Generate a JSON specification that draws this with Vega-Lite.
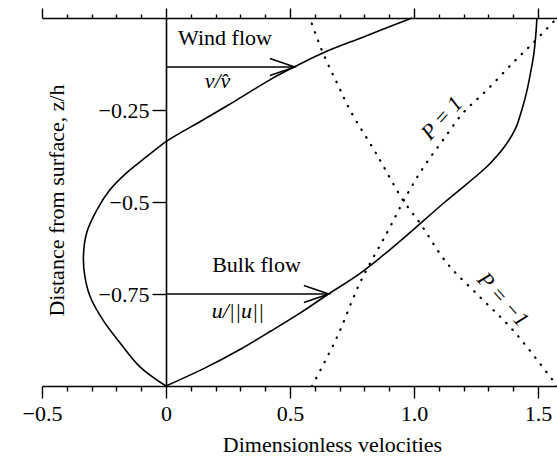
{
  "$schema": "https://vega.github.io/schema/vega-lite/v6.json",
  "width": 515,
  "height": 368,
  "autosize": {"type": "none"},
  "padding": {"left": 42, "top": 18, "right": 0, "bottom": 72},
  "background": "white",
  "config": {
    "view": {"stroke": null},
    "font": "Liberation Serif",
    "axis": {
      "labelFont": "Liberation Serif",
      "titleFont": "Liberation Serif",
      "labelFontSize": 22,
      "titleFontSize": 22,
      "titleFontWeight": "normal",
      "domainColor": "#000",
      "tickColor": "#000",
      "labelColor": "#000",
      "titleColor": "#000",
      "grid": false,
      "domainWidth": 1.6,
      "tickWidth": 1.4
    }
  },
  "datasets": {
    "bulk": [
      {"x": 0, "z": -1}, {"x": 0.16, "z": -0.95}, {"x": 0.30, "z": -0.90}, {"x": 0.425, "z": -0.85},
      {"x": 0.545, "z": -0.80}, {"x": 0.655, "z": -0.75}, {"x": 0.77, "z": -0.70}, {"x": 0.87, "z": -0.648},
      {"x": 0.955, "z": -0.60}, {"x": 1.04, "z": -0.55}, {"x": 1.125, "z": -0.50}, {"x": 1.215, "z": -0.45},
      {"x": 1.30, "z": -0.40}, {"x": 1.365, "z": -0.35}, {"x": 1.41, "z": -0.30}, {"x": 1.435, "z": -0.25},
      {"x": 1.455, "z": -0.20}, {"x": 1.47, "z": -0.15}, {"x": 1.483, "z": -0.10}, {"x": 1.491, "z": -0.05},
      {"x": 1.496, "z": 0}
    ],
    "wind": [
      {"x": 0, "z": -1}, {"x": -0.105, "z": -0.948}, {"x": -0.185, "z": -0.883}, {"x": -0.254, "z": -0.821},
      {"x": -0.306, "z": -0.757}, {"x": -0.327, "z": -0.703}, {"x": -0.333, "z": -0.649}, {"x": -0.32, "z": -0.584},
      {"x": -0.279, "z": -0.522}, {"x": -0.226, "z": -0.467}, {"x": -0.159, "z": -0.421}, {"x": -0.078, "z": -0.377},
      {"x": 0, "z": -0.336}, {"x": 0.056, "z": -0.313}, {"x": 0.149, "z": -0.277}, {"x": 0.285, "z": -0.223},
      {"x": 0.419, "z": -0.168}, {"x": 0.52, "z": -0.132}, {"x": 0.633, "z": -0.095}, {"x": 0.794, "z": -0.052},
      {"x": 0.992, "z": 0}
    ],
    "pminus": [
      {"x": 0.58, "z": 0}, {"x": 0.633, "z": -0.095}, {"x": 0.69, "z": -0.177}, {"x": 0.742, "z": -0.25},
      {"x": 0.851, "z": -0.372}, {"x": 0.956, "z": -0.495}, {"x": 1.024, "z": -0.557}, {"x": 1.133, "z": -0.666},
      {"x": 1.266, "z": -0.758}, {"x": 1.399, "z": -0.848}, {"x": 1.56, "z": -0.984}, {"x": 1.58, "z": -1}
    ],
    "pplus": [
      {"x": 0.589, "z": -1}, {"x": 0.69, "z": -0.867}, {"x": 0.782, "z": -0.72}, {"x": 0.891, "z": -0.584},
      {"x": 0.972, "z": -0.48}, {"x": 1.044, "z": -0.40}, {"x": 1.117, "z": -0.332}, {"x": 1.198, "z": -0.258},
      {"x": 1.294, "z": -0.196}, {"x": 1.399, "z": -0.122}, {"x": 1.48, "z": -0.068}, {"x": 1.577, "z": 0}
    ],
    "arrows": [
      {"x": 0, "x2": 0.52, "z": -0.133},
      {"x": 0, "x2": 0.657, "z": -0.75}
    ],
    "plain": [
      {"x": 0.238, "z": -0.073, "text": "Wind flow"},
      {"x": 0.365, "z": -0.69, "text": "Bulk flow"}
    ],
    "math": [
      {"x": 0.208, "z": -0.19, "text": "v/v̂"},
      {"x": 0.29, "z": -0.815, "text": "u/||u||"}
    ],
    "pone": [{"x": 1.112, "z": -0.272, "text": "P = 1"}],
    "pmone": [{"x": 1.36, "z": -0.765, "text": "P = −1"}]
  },
  "resolve": {"axis": {"x": "independent", "y": "independent"}},
  "layer": [
    {
      "data": {"name": "bulk"},
      "mark": {"type": "line", "interpolate": "catmull-rom", "color": "#000", "strokeWidth": 1.6},
      "encoding": {
        "x": {
          "field": "x", "type": "quantitative",
          "scale": {"domain": [-0.5, 1.577], "nice": false, "zero": false},
          "axis": {
            "orient": "bottom",
            "values": [-0.5, -0.4, -0.3, -0.2, -0.1, 0, 0.1, 0.2, 0.3, 0.4, 0.5, 0.6, 0.7, 0.8, 0.9, 1, 1.1, 1.2, 1.3, 1.4, 1.5],
            "tickSize": {"condition": {"test": "indexof([-0.5, 0, 0.5, 1, 1.5], datum.value) >= 0", "value": 12}, "value": 5},
            "labelExpr": "indexof([-0.5, 0.5, 1, 1.5], datum.value) >= 0 ? format(datum.value, '.1f') : (datum.value == 0 ? '0' : '')",
            "labelPadding": 5,
            "labelFlush": false,
            "labelOverlap": false,
            "labelBound": false,
            "title": "Dimensionless velocities",
            "titleX": 290,
            "titleY": 65,
            "titleBaseline": "alphabetic",
            "titleAlign": "center"
          }
        },
        "y": {
          "field": "z", "type": "quantitative",
          "scale": {"domain": [-1, 0], "nice": false, "zero": false},
          "axis": {
            "orient": "left",
            "offset": -124,
            "values": [-0.25, -0.5, -0.75],
            "format": ".2~f",
            "tickSize": 14,
            "labelPadding": 3,
            "labelBaseline": "middle",
            "labelFlush": false,
            "labelOverlap": false,
            "title": "Distance from surface, z/h",
            "titleAngle": -90,
            "titleX": -110,
            "titleY": 182,
            "titleAlign": "center",
            "titleBaseline": "middle"
          }
        },
        "order": {"field": "z", "type": "quantitative"}
      }
    },
    {
      "data": {"name": "wind"},
      "mark": {"type": "line", "interpolate": "catmull-rom", "color": "#000", "strokeWidth": 1.6},
      "encoding": {
        "x": {
          "field": "x", "type": "quantitative",
          "axis": {
            "orient": "top",
            "values": [-0.5, -0.4, -0.3, -0.2, -0.1, 0, 0.1, 0.2, 0.3, 0.4, 0.5, 0.6, 0.7, 0.8, 0.9, 1, 1.1, 1.2, 1.3, 1.4, 1.5],
            "tickSize": {"condition": {"test": "indexof([-0.5, 0, 0.5, 1, 1.5], datum.value) >= 0", "value": 10}, "value": 4},
            "labels": false,
            "title": null
          }
        },
        "y": {"field": "z", "type": "quantitative", "axis": null},
        "order": {"field": "z", "type": "quantitative"}
      }
    },
    {
      "data": {"name": "pminus"},
      "mark": {"type": "line", "interpolate": "catmull-rom", "color": "#000", "strokeWidth": 2.2, "strokeCap": "round", "strokeDash": [0.5, 8.5], "clip": true},
      "encoding": {
        "x": {"field": "x", "type": "quantitative", "axis": null},
        "y": {"field": "z", "type": "quantitative", "axis": null},
        "order": {"field": "z", "type": "quantitative"}
      }
    },
    {
      "data": {"name": "pplus"},
      "mark": {"type": "line", "interpolate": "catmull-rom", "color": "#000", "strokeWidth": 2.2, "strokeCap": "round", "strokeDash": [0.5, 8.5], "clip": true},
      "encoding": {
        "x": {"field": "x", "type": "quantitative", "axis": null},
        "y": {"field": "z", "type": "quantitative", "axis": null},
        "order": {"field": "z", "type": "quantitative"}
      }
    },
    {
      "data": {"name": "arrows"},
      "mark": {"type": "rule", "color": "#000", "strokeWidth": 1.5},
      "encoding": {
        "x": {"field": "x", "type": "quantitative", "axis": null},
        "x2": {"field": "x2"},
        "y": {"field": "z", "type": "quantitative", "axis": null}
      }
    },
    {
      "data": {"name": "arrows"},
      "mark": {"type": "point", "shape": "M-1,-0.34L0,0L-1,0.34", "size": 2500, "filled": false, "color": "#000", "strokeWidth": 1.5, "opacity": 1},
      "encoding": {
        "x": {"field": "x2", "type": "quantitative", "axis": null},
        "y": {"field": "z", "type": "quantitative", "axis": null}
      }
    },
    {
      "data": {"name": "plain"},
      "mark": {"type": "text", "font": "Liberation Serif", "fontSize": 22, "color": "#000", "align": "center", "baseline": "alphabetic"},
      "encoding": {
        "x": {"field": "x", "type": "quantitative", "axis": null},
        "y": {"field": "z", "type": "quantitative", "axis": null},
        "text": {"field": "text"}
      }
    },
    {
      "data": {"name": "math"},
      "mark": {"type": "text", "font": "Liberation Serif", "fontSize": 22, "fontStyle": "italic", "color": "#000", "align": "center", "baseline": "alphabetic"},
      "encoding": {
        "x": {"field": "x", "type": "quantitative", "axis": null},
        "y": {"field": "z", "type": "quantitative", "axis": null},
        "text": {"field": "text"}
      }
    },
    {
      "data": {"name": "pone"},
      "mark": {"type": "text", "font": "Liberation Serif", "fontSize": 22, "fontStyle": "italic", "color": "#000", "align": "center", "baseline": "middle", "angle": 312},
      "encoding": {
        "x": {"field": "x", "type": "quantitative", "axis": null},
        "y": {"field": "z", "type": "quantitative", "axis": null},
        "text": {"field": "text"}
      }
    },
    {
      "data": {"name": "pmone"},
      "mark": {"type": "text", "font": "Liberation Serif", "fontSize": 22, "fontStyle": "italic", "color": "#000", "align": "center", "baseline": "middle", "angle": 48},
      "encoding": {
        "x": {"field": "x", "type": "quantitative", "axis": null},
        "y": {"field": "z", "type": "quantitative", "axis": null},
        "text": {"field": "text"}
      }
    }
  ]
}
